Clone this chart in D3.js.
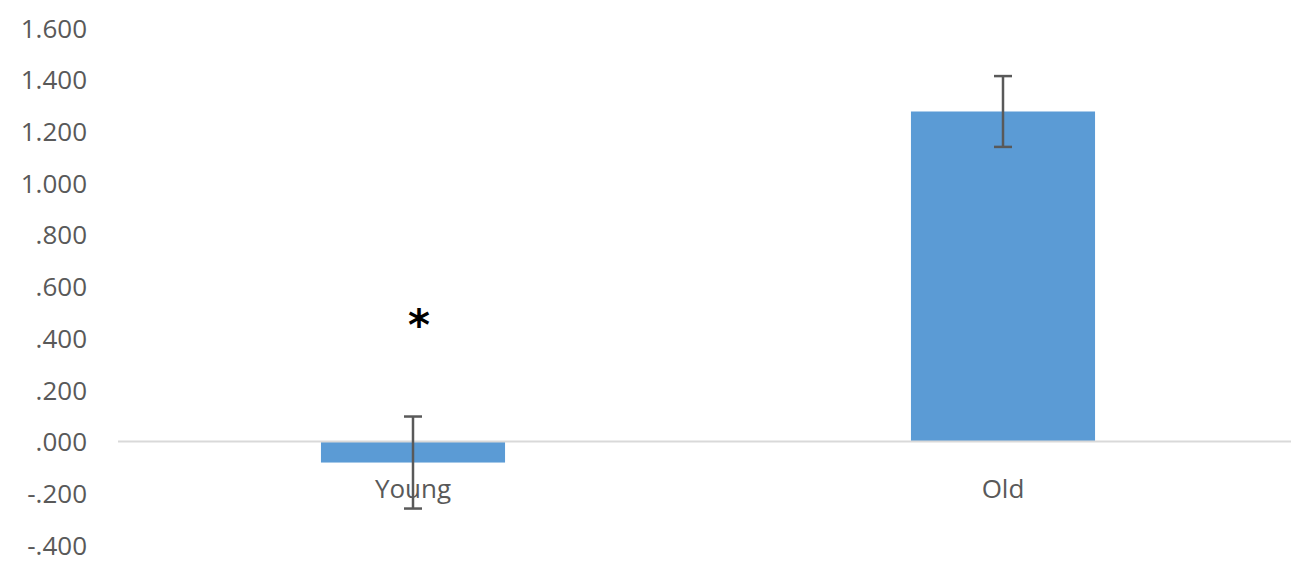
<!DOCTYPE html>
<html><head><meta charset="utf-8">
<script src="https://cdn.jsdelivr.net/npm/d3@7"></script>
<style>body{margin:0;background:#fff}svg{display:block}</style>
</head><body>
<svg id="c" width="1291" height="565"></svg>
<script>
const categories = ["Young", "Old"];
const values = [-0.081, 1.277];
const errors = [0.178, 0.137];
const tickValues = [-0.4, -0.2, 0, 0.2, 0.4, 0.6, 0.8, 1.0, 1.2, 1.4, 1.6];
const tickLabels = ["-.400", "-.200", ".000", ".200", ".400", ".600", ".800", "1.000", "1.200", "1.400", "1.600"];
const annotations = [{category: "Young", text: "*", value: 0.45}];

const svg = d3.select("#c");
const font = "'Open Sans', sans-serif";
const y = d3.scaleLinear().domain([-0.4, 1.6]).range([545, 28]);
const x = d3.scaleBand().domain(categories).range([118, 1298]).paddingInner(0.688).paddingOuter(0.344);

// y axis labels
const yAxis = d3.axisLeft(y).tickValues(tickValues).tickFormat((d, i) => tickLabels[i]).tickSize(0).tickPadding(0);
const gy = svg.append("g").attr("transform", "translate(87,0)").call(yAxis);
gy.select(".domain").remove();
gy.selectAll("text").attr("fill", "#595959").style("font-family", font).style("font-size", "26px").attr("dy", "0.35em");

// bars
svg.selectAll("rect.bar").data(categories).join("rect")
  .attr("class", "bar")
  .attr("x", d => x(d))
  .attr("width", x.bandwidth())
  .attr("y", (d, i) => y(Math.max(0, values[i])))
  .attr("height", (d, i) => Math.abs(y(values[i]) - y(0)))
  .attr("fill", "#5b9bd5");

// zero line
svg.append("line").attr("x1", 118).attr("x2", 1291).attr("y1", y(0)).attr("y2", y(0))
  .attr("stroke", "#d9d9d9").attr("stroke-width", 2);

// category labels
svg.selectAll("text.cat").data(categories).join("text")
  .attr("class", "cat")
  .attr("x", d => x(d) + x.bandwidth() / 2)
  .attr("y", y(0) + 56)
  .attr("text-anchor", "middle")
  .attr("fill", "#595959").style("font-family", font).style("font-size", "26px")
  .text(d => d);

// error bars
const eb = svg.selectAll("g.err").data(categories).join("g").attr("class", "err")
  .attr("stroke", "#595959").attr("stroke-width", 2.5);
eb.append("line").attr("x1", d => x(d) + x.bandwidth() / 2).attr("x2", d => x(d) + x.bandwidth() / 2)
  .attr("y1", (d, i) => y(values[i] + errors[i])).attr("y2", (d, i) => y(values[i] - errors[i]));
eb.append("line").attr("x1", d => x(d) + x.bandwidth() / 2 - 9).attr("x2", d => x(d) + x.bandwidth() / 2 + 9)
  .attr("y1", (d, i) => y(values[i] + errors[i])).attr("y2", (d, i) => y(values[i] + errors[i]));
eb.append("line").attr("x1", d => x(d) + x.bandwidth() / 2 - 9).attr("x2", d => x(d) + x.bandwidth() / 2 + 9)
  .attr("y1", (d, i) => y(values[i] - errors[i])).attr("y2", (d, i) => y(values[i] - errors[i]));

// annotation
svg.selectAll("text.ann").data(annotations).join("text")
  .attr("class", "ann")
  .attr("x", d => x(d.category) + x.bandwidth() / 2 + 6)
  .attr("y", d => y(d.value) + 15)
  .attr("text-anchor", "middle")
  .attr("fill", "#000").style("font-family", "'DejaVu Sans', sans-serif").style("font-weight", "bold").style("font-size", "42px")
  .text(d => d.text);
</script>
</body></html>
